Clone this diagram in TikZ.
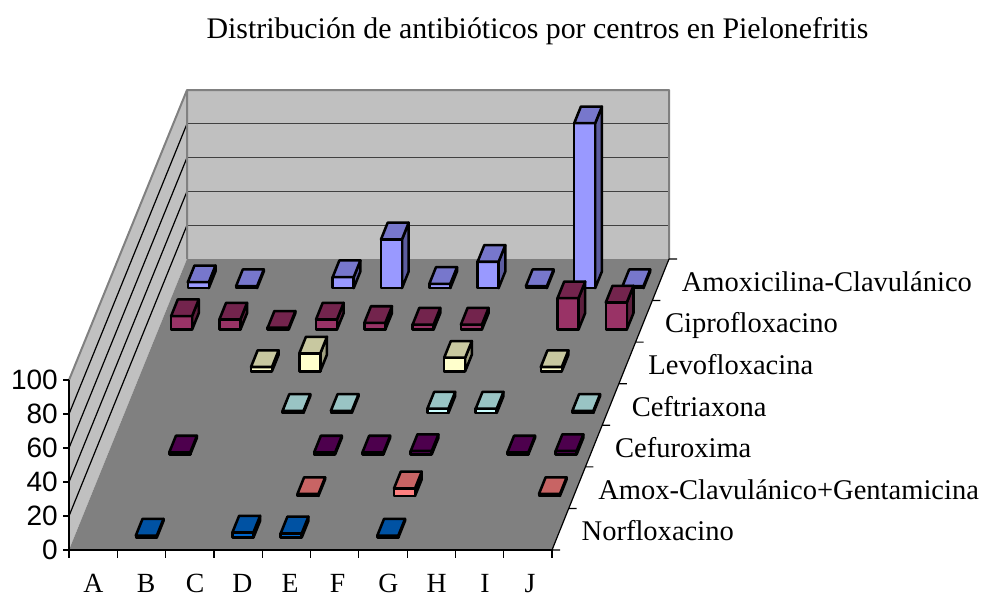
\documentclass[tikz,border=0pt]{standalone}
\usepackage{fontspec}
\setmainfont{Liberation Serif}
\newfontfamily\arialfont{Liberation Sans}

\definecolor{wallgray}{RGB}{192,192,192}
\definecolor{floorgray}{RGB}{128,128,128}
\definecolor{edgegray}{RGB}{128,128,128}
\definecolor{gridgray}{RGB}{64,64,64}
% series colours: F front, T top, S side
\definecolor{amoxF}{RGB}{153,153,255}
\definecolor{amoxT}{RGB}{119,119,204}
\definecolor{amoxS}{RGB}{92,92,160}
\definecolor{ciproF}{RGB}{153,51,102}
\definecolor{ciproT}{RGB}{115,36,77}
\definecolor{ciproS}{RGB}{92,31,61}
\definecolor{levoF}{RGB}{255,255,204}
\definecolor{levoT}{RGB}{200,200,160}
\definecolor{levoS}{RGB}{160,160,128}
\definecolor{ceftF}{RGB}{204,255,255}
\definecolor{ceftT}{RGB}{153,196,196}
\definecolor{ceftS}{RGB}{122,153,153}
\definecolor{cefuF}{RGB}{102,0,102}
\definecolor{cefuT}{RGB}{77,0,77}
\definecolor{cefuS}{RGB}{61,0,61}
\definecolor{gentF}{RGB}{255,128,128}
\definecolor{gentT}{RGB}{200,100,100}
\definecolor{gentS}{RGB}{153,77,77}
\definecolor{norfF}{RGB}{0,102,204}
\definecolor{norfT}{RGB}{0,82,163}
\definecolor{norfS}{RGB}{0,61,122}

\tikzset{
  barline/.style={draw=black,line width=1.9pt,line join=round},
  ttl/.style={font=\fontsize{22.4}{26}\selectfont,anchor=base,inner sep=0},
  catlbl/.style={font=\fontsize{20.8}{24}\selectfont,anchor=base,inner sep=0},
  serlbl/.style={font=\fontsize{21.4}{25}\selectfont,anchor=base west,inner sep=0},
  vallbl/.style={font=\arialfont\fontsize{21}{24}\selectfont,anchor=east,inner sep=0},
}

% 3D column: #1 column (A=0), #2 row (front=0), #3 value, #4 series colour prefix
\newcommand{\colbar}[4]{%
  \pgfmathsetmacro{\colh}{max(1.7*#3,2)}%
  \begin{scope}[shift={({69+48.3*(#1)+13.5+16.714*(#2+0.3)},{550-41.571*(#2+0.3)})}]
    \draw[barline,fill=#4S] (21,0) -- (27.69,-16.63) -- (27.69,{-\colh-16.63}) -- (21,-\colh) -- cycle;
    \draw[barline,fill=#4F] (0,0) rectangle (21,-\colh);
    \draw[barline,fill=#4T] (0,-\colh) -- (21,-\colh) -- (27.69,{-\colh-16.63}) -- (6.69,{-\colh-16.63}) -- cycle;
  \end{scope}}

\begin{document}
\begin{tikzpicture}[x=0.75pt,y=0.75pt,yscale=-1]
\useasboundingbox (0,0) rectangle (984,596);

%Shape: Back wall
\fill [wallgray] (187,90) rectangle (669,259) ;
%Shape: Left wall
\fill [wallgray] (69,550) -- (187,259) -- (187,90) -- (69,380) -- cycle ;

%Straight Lines: grid on back wall
\draw [gridgray, line width=0.9pt] (187,123.8) -- (669,123.8) (187,157.6) -- (669,157.6) (187,191.4) -- (669,191.4) (187,225.2) -- (669,225.2) ;
%Straight Lines: grid on left wall
\draw [black, line width=0.9pt] (69,516) -- (187,225.2) (69,482) -- (187,191.4) (69,448) -- (187,157.6) (69,414) -- (187,123.8) ;

%Shape: Floor
\fill [floorgray] (69,550) -- (552,550) -- (669,259) -- (187,259) -- cycle ;

%Straight Lines: wall edges
\draw [edgegray, line width=1.5pt, line join=round] (69,380) -- (187,90) -- (669,90) -- (669,259) (187,90) -- (187,259) ;

%Shape: Axis (values)
\draw [line width=0.9pt] (69,380) -- (69,550) (63,550) -- (69,550) (63,516) -- (69,516) (63,482) -- (69,482) (63,448) -- (69,448) (63,414) -- (69,414) (63,380) -- (69,380) ;
%Shape: Axis (centros)
\draw [line width=0.9pt] (69,550) -- (552,550) (69,550) -- (69,558) (117.3,550) -- (117.3,558) (165.6,550) -- (165.6,558) (213.9,550) -- (213.9,558) (262.2,550) -- (262.2,558) (310.5,550) -- (310.5,558) (358.8,550) -- (358.8,558) (407.1,550) -- (407.1,558) (455.4,550) -- (455.4,558) (503.7,550) -- (503.7,558) (552,550) -- (552,558) ;
%Shape: Axis (series)
\draw [line width=0.9pt] (552,550) -- (669,259) (552,550) -- (560,550) (568.71,508.43) -- (576.71,508.43) (585.43,466.86) -- (593.43,466.86) (602.14,425.29) -- (610.14,425.29) (618.86,383.71) -- (626.86,383.71) (635.57,342.14) -- (643.57,342.14) (652.29,300.57) -- (660.29,300.57) (669,259) -- (677,259) ;

% Amoxicilina-Clavulanico
\colbar{0}{6}{3.5}{amox}
\colbar{1}{6}{0}{amox}
\colbar{3}{6}{6.5}{amox}
\colbar{4}{6}{28.7}{amox}
\colbar{5}{6}{2.5}{amox}
\colbar{6}{6}{15.5}{amox}
\colbar{7}{6}{0}{amox}
\colbar{8}{6}{97}{amox}
\colbar{9}{6}{0}{amox}
% Ciprofloxacino
\colbar{0}{5}{8}{cipro}
\colbar{1}{5}{6}{cipro}
\colbar{2}{5}{0}{cipro}
\colbar{3}{5}{6}{cipro}
\colbar{4}{5}{4}{cipro}
\colbar{5}{5}{3}{cipro}
\colbar{6}{5}{3}{cipro}
\colbar{8}{5}{18.5}{cipro}
\colbar{9}{5}{16}{cipro}
% Levofloxacina
\colbar{2}{4}{2.5}{levo}
\colbar{3}{4}{10.5}{levo}
\colbar{6}{4}{8}{levo}
\colbar{8}{4}{2.5}{levo}
% Ceftriaxona
\colbar{3}{3}{0}{ceft}
\colbar{4}{3}{0}{ceft}
\colbar{6}{3}{2.5}{ceft}
\colbar{7}{3}{2.5}{ceft}
\colbar{9}{3}{0}{ceft}
% Cefuroxima
\colbar{1}{2}{0}{cefu}
\colbar{4}{2}{0}{cefu}
\colbar{5}{2}{0}{cefu}
\colbar{6}{2}{2}{cefu}
\colbar{8}{2}{0}{cefu}
\colbar{9}{2}{2}{cefu}
% Amox-Clavulanico+Gentamicina
\colbar{4}{1}{0}{gent}
\colbar{6}{1}{4.5}{gent}
\colbar{9}{1}{0}{gent}
% Norfloxacino
\colbar{1}{0}{0}{norf}
\colbar{3}{0}{3}{norf}
\colbar{4}{0}{2.5}{norf}
\colbar{6}{0}{0}{norf}

% Text Node
\draw (537.5,38) node [ttl] (title) {Distribución de antibióticos por centros en Pielonefritis};
% Text Node
\draw (58,550) node [vallbl] (v0) {0};
% Text Node
\draw (58,516) node [vallbl] (v20) {20};
% Text Node
\draw (58,482) node [vallbl] (v40) {40};
% Text Node
\draw (58,448) node [vallbl] (v60) {60};
% Text Node
\draw (58,414) node [vallbl] (v80) {80};
% Text Node
\draw (58,380) node [vallbl] (v100) {100};
% Text Node
\draw (93.3,592) node [catlbl] (cA) {A};
% Text Node
\draw (146,592) node [catlbl] (cB) {B};
% Text Node
\draw (195,592) node [catlbl] (cC) {C};
% Text Node
\draw (242.3,592) node [catlbl] (cD) {D};
% Text Node
\draw (290,592) node [catlbl] (cE) {E};
% Text Node
\draw (337.5,592) node [catlbl] (cF) {F};
% Text Node
\draw (388.3,592) node [catlbl] (cG) {G};
% Text Node
\draw (436.7,592) node [catlbl] (cH) {H};
% Text Node
\draw (485,592) node [catlbl] (cI) {I};
% Text Node
\draw (530,592) node [catlbl] (cJ) {J};
% Text Node
\draw (581.4,540.7) node [serlbl] (sNorf) {Norfloxacino};
% Text Node
\draw (598.1,499.1) node [serlbl] (sGent) {Amox-Clavulánico+Gentamicina};
% Text Node
\draw (614.8,457.6) node [serlbl] (sCefu) {Cefuroxima};
% Text Node
\draw (631.5,416) node [serlbl] (sCeft) {Ceftriaxona};
% Text Node
\draw (648.2,374.4) node [serlbl] (sLevo) {Levofloxacina};
% Text Node
\draw (664.9,332.9) node [serlbl] (sCipro) {Ciprofloxacino};
% Text Node
\draw (681.6,291.3) node [serlbl] (sAmox) {Amoxicilina-Clavulánico};

\end{tikzpicture}
\end{document}
